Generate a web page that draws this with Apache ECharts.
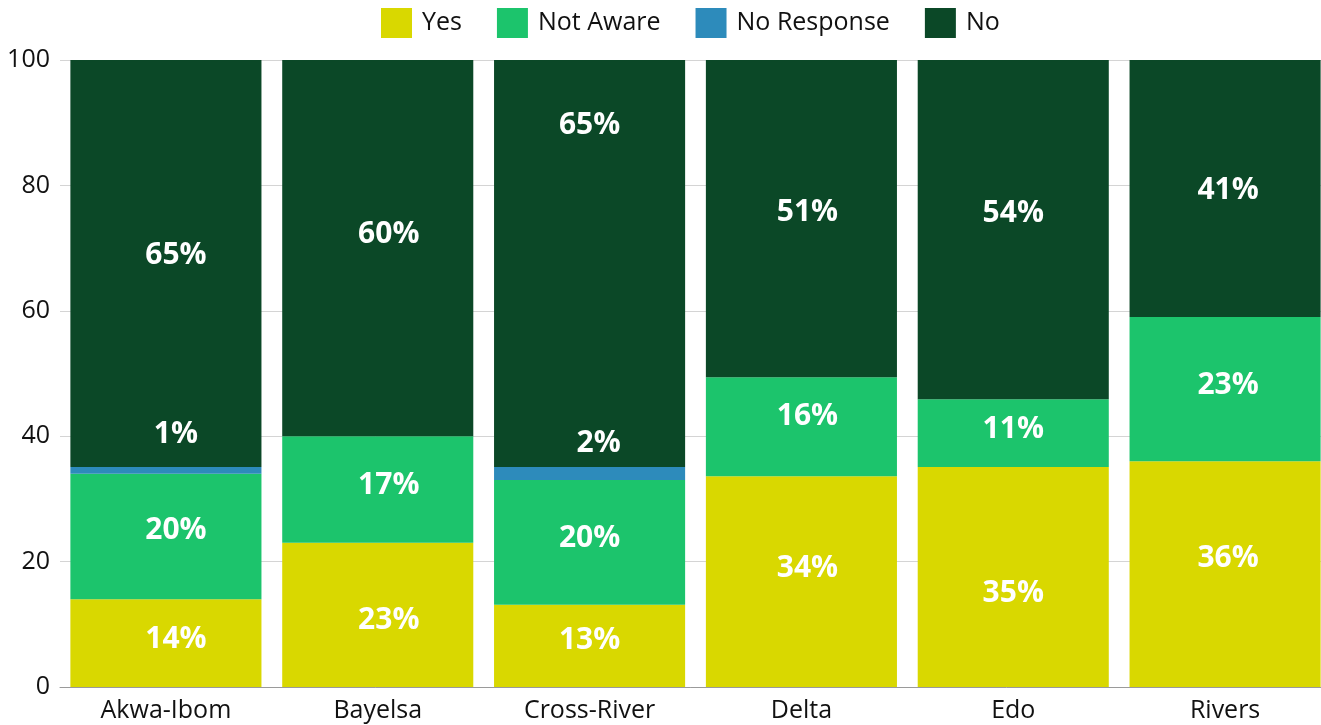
<!DOCTYPE html>
<html>
<head>
<meta charset="utf-8">
<style>
  html, body { margin: 0; padding: 0; background: #ffffff; }
  #chart { width: 1321px; height: 725px; }
</style>
<script src="https://cdn.jsdelivr.net/npm/echarts@6/dist/echarts.min.js"></script>
</head>
<body>
<div id="chart"></div>
<script>
// States surveyed
const states = ['Akwa-Ibom', 'Bayelsa', 'Cross-River', 'Delta', 'Edo', 'Rivers'];

// Share of responses per state (percent)
const yesValues        = [14, 23, 13.1, 33.6, 35.1, 36];
const notAwareValues   = [20, 17, 19.9, 15.8, 10.8, 23];
const noResponseValues = [1.1, 0, 2.1, 0, 0, 0];
const noValues         = [64.9, 60, 64.9, 50.6, 54.1, 41];

// Value axis ticks
const yTicks = [0, 20, 40, 60, 80, 100];

// Label nudges (px): horizontal per state, vertical per segment
const labelShiftX      = [10, 11, 0, 6, 0, 3];
const noResponseShiftX = [10, 0, 9, 0, 0, 0];
const yesNudge         = [-4, 6, -5, -13, 16, -16];
const notAwareNudge    = [-6, -4, -4, -10, -4, -4];
const noResponseNudge  = [-36, 0, -30, 0, 0, 0];
const noNudge          = [-8, -14, -138, -6, -16, 2];

const FONT = '"Open Sans", "Noto Sans", sans-serif';

function buildData(values, shiftX, nudges) {
  return values.map((v, i) => ({
    value: v,
    label: { show: v > 0, offset: [shiftX[i], nudges[i]] }
  }));
}

function makeSeries(name, color, values, shiftX, nudges) {
  return {
    name: name,
    type: 'bar',
    stack: 'total',
    barCategoryGap: '9.8%',
    itemStyle: { color: color },
    label: {
      show: true,
      position: 'inside',
      color: '#ffffff',
      fontFamily: FONT,
      fontWeight: 'bold',
      fontSize: 30,
      formatter: p => Math.round(p.value) + '%'
    },
    data: buildData(values, shiftX, nudges)
  };
}

const chart = echarts.init(document.getElementById('chart'), null, { renderer: 'canvas' });

chart.setOption({
  animation: false,
  textStyle: { fontFamily: FONT },
  legend: {
    top: 8,
    left: 381,
    padding: 0,
    itemWidth: 31,
    itemHeight: 30,
    itemGap: 35,
    icon: 'rect',
    textStyle: { fontFamily: FONT, fontSize: 25, color: '#111111', padding: [1, 0, 0, 5] },
    data: ['Yes', 'Not Aware', 'No Response', 'No']
  },
  // plot area runs a little past the right edge of the canvas
  grid: {
    left: 60, width: 1271, top: 60, bottom: 38,
    containLabel: false, outerBoundsMode: 'none'
  },
  xAxis: {
    type: 'category',
    data: states,
    axisTick: { show: false },
    axisLine: { lineStyle: { color: '#9a9a9a', width: 1 } },
    axisLabel: { fontFamily: FONT, fontSize: 25, color: '#111111', margin: 11 }
  },
  yAxis: {
    type: 'value',
    min: yTicks[0],
    max: yTicks[yTicks.length - 1],
    interval: yTicks[1] - yTicks[0],
    axisLine: { show: false },
    axisTick: { show: false },
    splitLine: { lineStyle: { color: '#d4d4d4', width: 1 } },
    axisLabel: { fontFamily: FONT, fontSize: 25, color: '#111111', margin: 10 }
  },
  series: [
    makeSeries('Yes', '#d9d800', yesValues, labelShiftX, yesNudge),
    makeSeries('Not Aware', '#1cc46c', notAwareValues, labelShiftX, notAwareNudge),
    makeSeries('No Response', '#2d8bbb', noResponseValues, noResponseShiftX, noResponseNudge),
    makeSeries('No', '#0b4827', noValues, labelShiftX, noNudge)
  ]
});
</script>
</body>
</html>
